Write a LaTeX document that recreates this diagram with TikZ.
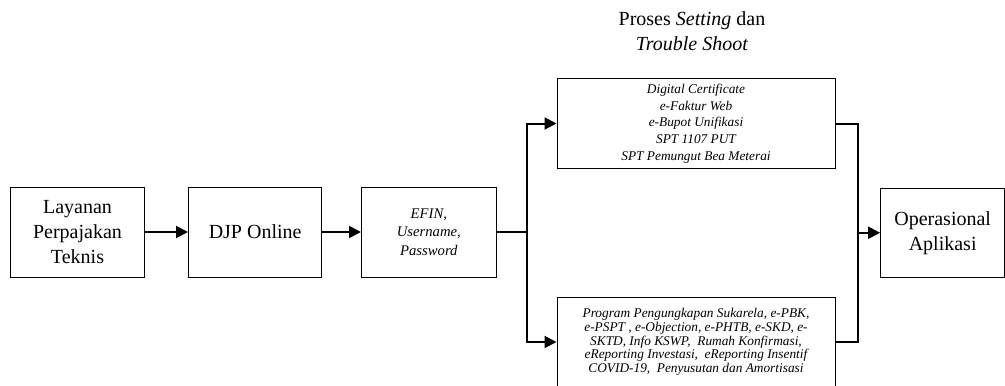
\documentclass[tikz,border=0pt]{standalone}
\usepackage{fontspec}
\setmainfont{Liberation Serif}
\usepackage{tikz}
\usetikzlibrary{positioning, arrows.meta, calc}

\begin{document}
\begin{tikzpicture}[
  x=0.75pt, y=-0.75pt,
  box/.style={draw, line width=0.75pt, minimum height=67.5pt, align=center, inner sep=2pt},
  mainbox/.style={box, minimum width=101pt, font=\fontsize{15}{18.75}\selectfont},
  listbox/.style={box, minimum width=208.5pt, font=\fontsize{10}{12.5}\selectfont\itshape},
  arr/.style={-{Triangle[length=9pt, width=9pt]}, line width=1.5pt},
  link/.style={line width=1.5pt},
]
\useasboundingbox (0,0) rectangle (1005,385);
\clip (0,0) rectangle (1005,385);

% === Row: main flow ===
\node[mainbox] (layanan) at (77.5,232) {Layanan\\Perpajakan\\Teknis};

\node[mainbox, minimum width=100pt, right=32pt of layanan] (djp) {DJP Online};
\draw[arr] (layanan) -- (djp);

\node[box, minimum width=101pt, font=\fontsize{11}{14}\selectfont\itshape, right=29pt of djp] (efin) {EFIN,\\Username,\\Password};
\draw[arr] (djp) -- (efin);

% === Branches ===
\node[listbox, minimum height=68pt] (digital) at (696,123.5) {Digital Certificate\\e-Faktur Web\\e-Bupot Unifikasi\\SPT 1107 PUT\\SPT Pemungut Bea Meterai};

\node[listbox, minimum height=67.5pt, font=\fontsize{10}{10.3}\selectfont\itshape] (tools) at (696,342) {Program Pengungkapan Sukarela, e-PBK,\\e-PSPT , e-Objection, e-PHTB, e-SKD, e-\\SKTD, Info KSWP,~ Rumah Konfirmasi,\\eReporting Investasi,~ eReporting Insentif\\COVID-19,~ Penyusutan dan Amortisasi};

% Title above the top branch
\node[align=center, font=\fontsize{15}{18.75}\selectfont] (title) at (692,31) {Proses \textit{Setting} dan\\\textit{Trouble Shoot}};

% Fork point
\coordinate (fork) at ($(efin.east)+(30,0)$);
\draw[link] (efin) -- (fork);
\draw[arr] (fork) |- (digital);
\draw[arr] (fork) |- (tools);

% Merge point
\coordinate (merge) at ($(digital.east)!0.5!(tools.east)+(22,0)$);
\draw[link] (digital.east) -| (merge) |- (tools.east);

% === Output ===
\node[mainbox, minimum width=93pt, minimum height=67pt, right=17pt of merge] (oper) {Operasional\\Aplikasi};
\draw[arr] (merge) -- (oper);

\end{tikzpicture}
\end{document}
